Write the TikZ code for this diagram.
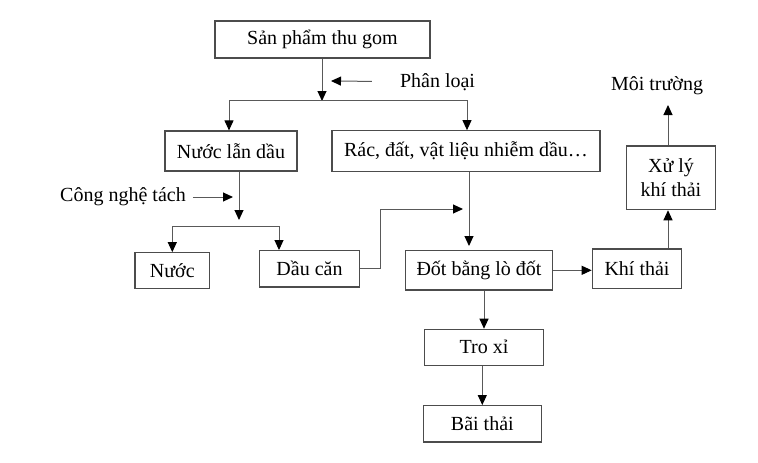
\documentclass[tikz,border=0pt]{standalone}
\usepackage{fontspec}
\setmainfont{Liberation Serif}
\usetikzlibrary{arrows.meta}

\begin{document}
\begin{tikzpicture}[x=1pt,y=-1pt,
  box/.style={draw,black!70,text=black,line width=1.2pt,inner sep=0pt},
  lbl/.style={inner sep=0pt},
  conn/.style={black!65,line width=1pt},
  tip/.style={conn,-{Triangle[length=10pt,width=9pt,color=black]}},
  font=\fontsize{20}{23.5}\selectfont]
  \useasboundingbox (0,0) rectangle (758,463);

  \node (sp) [box,minimum width=215pt,minimum height=37pt] at (322.5,39.5) {Sản phẩm thu gom};
  \node (nld) [box,minimum width=132pt,minimum height=40pt] at (231,151) {Nước lẫn dầu};
  \node (rac) [box,minimum width=268pt,minimum height=40.5pt] at (466,151) {Rác, đất, vật liệu nhiễm dầu…};
  \node (nuoc) [box,minimum width=74.5pt,minimum height=35.5pt] at (172.3,270.5) {Nước};
  \node (dc) [box,minimum width=99.5pt,minimum height=36.3pt] at (309.5,268.8) {Dầu căn};
  \node (dot) [box,minimum width=147.4pt,minimum height=39.3pt] at (479,270.3) {Đốt bằng lò đốt};
  \node (khi) [box,minimum width=89.4pt,minimum height=39.3pt] at (637,268.7) {Khí thải};
  \node (xl) [box,minimum width=89.4pt,minimum height=63.7pt,align=center] at (671,177.8) {Xử lý\\khí thải};
  \node (tro) [box,minimum width=119pt,minimum height=36pt] at (484,347.3) {Tro xỉ};
  \node (bai) [box,minimum width=118pt,minimum height=36.3pt] at (482.3,423.8) {Bãi thải};

  \node (pl) [lbl] at (437.5,82) {Phân loại};
  \node (mt) [lbl] at (657,86) {Môi trường};
  \node (cn) [lbl] at (123,197) {Công nghệ tách};

  % junctions and free ends
  \coordinate (j1) at (322,100);
  \coordinate (plTip) at (331,81);
  \coordinate (cnTip) at (233,197);
  \coordinate (j2) at (239,220);
  \coordinate (s2) at (279,226);
  \coordinate (k1) at (380,209);
  \coordinate (k2) at (463,209);
  \coordinate (k3) at (469,246);
  \coordinate (m1) at (668,105);

  \draw [tip] (sp.south -| j1) -- ([yshift=-1pt]j1);
  \draw [tip] (j1) -| ([xshift=-2pt]nld.north);
  \draw [tip] (j1) -| ([xshift=1pt]rac.north);
  \draw [tip,shorten <=28pt] (pl) -- (plTip);
  \draw [tip,shorten <=7pt] (cn) -- (cnTip);
  \draw [tip] (nld.south -| j2) -- (j2);
  \draw [conn,{Triangle[length=10pt,width=9pt,color=black]}-{Triangle[length=10pt,width=9pt,color=black]}] (nuoc.north) |- (s2) -- (s2 |- dc.north);
  \draw [tip] (dc.east) -| (k1) -- (k2);
  \draw [tip] (rac.south -| k3) -- (k3);
  \draw [tip] (dot.east) -- (dot.east -| khi.west);
  \draw [tip] (khi.north -| m1) -- (xl.south -| m1);
  \draw [tip] (xl.north -| m1) -- (m1);
  \draw [tip] (dot.south -| tro.north) -- (tro.north);
  \draw [tip] (tro.south -| bai.north) -- (bai.north);

\end{tikzpicture}
\end{document}
